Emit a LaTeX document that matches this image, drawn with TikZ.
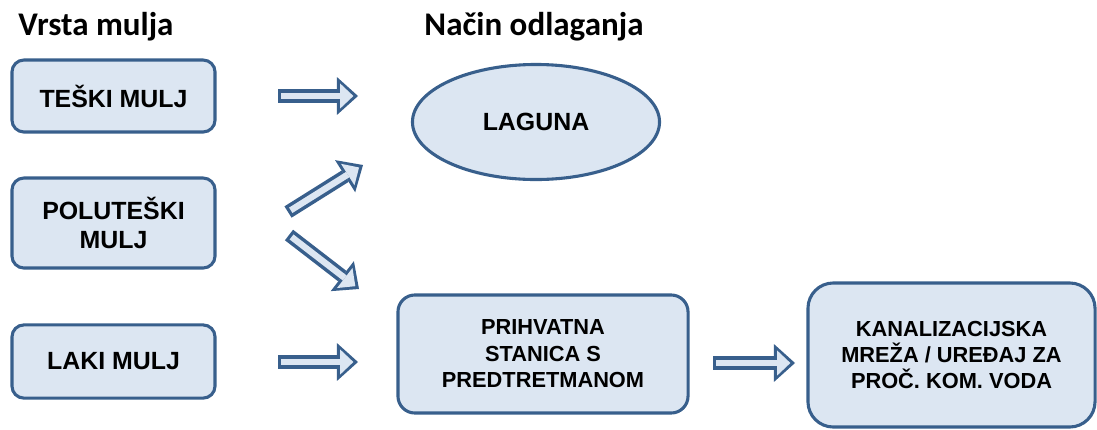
\documentclass[tikz,border=0pt]{standalone}
\usepackage{fontspec}
\setmainfont{Liberation Sans}
\newfontfamily\titlefont{Carlito}
\usepackage{tikz}
\usetikzlibrary{arrows.meta, shapes, positioning, calc}
\definecolor{mudark}{RGB}{56,95,140}
\definecolor{mufill}{RGB}{220,230,242}

\begin{document}
\begin{tikzpicture}[
  x=0.025cm, y=-0.025cm,
  every node/.style={font=\bfseries},
  ttl/.style={font=\titlefont\bfseries\fontsize{23.5}{27}\selectfont, inner sep=0pt},
  srcbox/.style={draw=mudark, fill=mufill, line width=2.2pt, rounded corners=8.5pt,
                 minimum width=5.075cm, align=center, inner sep=0pt,
                 font=\bfseries\fontsize{17.7}{20.5}\selectfont},
  dstbox/.style={draw=mudark, fill=mufill, line width=2.2pt, rounded corners=12pt,
                 align=center, inner sep=0pt,
                 font=\bfseries\fontsize{15.5}{18.8}\selectfont},
  blk/.style={preaction={draw=mudark, line width=9.5pt, shorten >=0pt, shorten <=0pt,
                         -{Triangle[width=27pt, length=15pt, line width=0pt]}},
              draw=mufill, line width=4.5pt, shorten >=3.3pt, shorten <=2.3pt,
              -{Triangle[width=18pt, length=9.5pt, line width=0pt]}},
]
\useasboundingbox (0,0) rectangle (1097,429);

%% ── TITLES ────────────────────────────────────────────────────────────
\node[ttl] (ttlvrsta) at (96,27)  {Vrsta mulja};
\node[ttl] (ttlnacin) at (534,27) {Način odlaganja};

%% ── VRSTA MULJA (left) ────────────────────────────────────────────────
\node[srcbox, minimum height=1.8cm]  (teski) at (113.5,96)  {TEŠKI MULJ};
\node[srcbox, minimum height=2.25cm] (polu)  at (113.5,223) {POLUTEŠKI\\MULJ};
\node[srcbox, minimum height=1.83cm] (laki)  at (113.5,361.5) {LAKI MULJ};

%% ── NAČIN ODLAGANJA ───────────────────────────────────────────────────
\node[draw=mudark, fill=mufill, line width=2.2pt, ellipse, inner sep=0pt,
      minimum width=6.175cm, minimum height=2.875cm,
      font=\bfseries\fontsize{17.7}{20.5}\selectfont]
  (laguna) at (536,122) {LAGUNA};
\node[dstbox, minimum width=7.25cm, minimum height=2.95cm]
  (prihv) at (543,354) {PRIHVATNA\\STANICA S\\PREDTRETMANOM};
\node[dstbox, rounded corners=18pt, minimum width=7.175cm, minimum height=3.6cm]
  (kanal) at (951.5,355) {KANALIZACIJSKA\\MREŽA / UREĐAJ ZA\\PROČ. KOM. VODA};

%% ── ARROW ENDS ────────────────────────────────────────────────────────
\coordinate (a1s) at (278,96);   \coordinate (a1e) at (358,96);
\coordinate (a2s) at (288,212);  \coordinate (a2e) at (363,165);
\coordinate (a3s) at (289,235);  \coordinate (a3e) at (359,289);
\coordinate (a4s) at (278,362);  \coordinate (a4e) at (358,362);
\coordinate (a5s) at (713,363);  \coordinate (a5e) at (795,363);

%% ═════════════════════════════════════════════════════════════════════
%% ARROWS
%% ═════════════════════════════════════════════════════════════════════
\draw[blk] (a1s) -- (a1e);
\draw[blk] (a2s) -- (a2e);
\draw[blk] (a3s) -- (a3e);
\draw[blk] (a4s) -- (a4e);
\draw[blk] (a5s) -- (a5e);

\end{tikzpicture}
\end{document}
